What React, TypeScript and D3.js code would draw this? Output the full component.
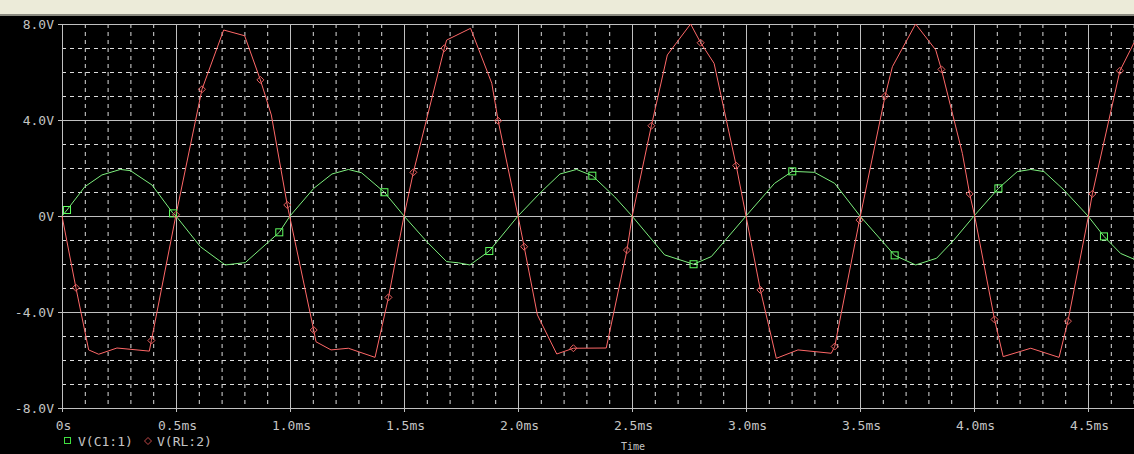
import React, { useEffect, useRef } from 'react';
import * as d3 from 'd3';

// V(C1:1) — time in ms, value in volts
const greenTime = [0, 0.022, 0.1, 0.175, 0.256, 0.3, 0.395, 0.487, 0.5, 0.607, 0.716, 0.804, 0.953, 1.0, 1.104, 1.184, 1.256, 1.314, 1.414, 1.5, 1.6, 1.687, 1.738, 1.789, 1.874, 2.0, 2.096, 2.184, 2.257, 2.326, 2.424, 2.5, 2.643, 2.77, 2.848, 3.0, 3.125, 3.203, 3.3, 3.389, 3.5, 3.652, 3.744, 3.836, 3.912, 4.0, 4.107, 4.19, 4.249, 4.307, 4.395, 4.5, 4.57, 4.643, 4.702];
const greenVolt = [0, 0.25, 1.22, 1.71, 1.94, 1.89, 1.29, 0.11, 0, -1.28, -2.04, -1.94, -0.68, 0, 1.15, 1.75, 1.94, 1.8, 0.99, 0, -1.07, -1.9, -1.95, -2.04, -1.46, 0, 0.95, 1.75, 1.94, 1.68, 0.8, 0, -1.62, -2.01, -1.69, 0, 1.36, 1.86, 1.82, 1.36, 0, -1.64, -2.04, -1.76, -1.0, 0, 1.15, 1.85, 1.94, 1.85, 1.08, 0, -0.85, -1.56, -1.8];
const greenMarkTime = [0.022, 0.487, 0.953, 1.414, 1.874, 2.326, 2.77, 3.203, 3.652, 4.107, 4.57];
const greenMarkVolt = [0.25, 0.11, -0.68, 0.99, -1.46, 1.68, -2.01, 1.86, -1.64, 1.15, -0.85];

// V(RL:2)
const redTime = [0, 0.061, 0.117, 0.161, 0.241, 0.383, 0.392, 0.5, 0.614, 0.709, 0.801, 0.87, 0.918, 0.988, 1.104, 1.114, 1.18, 1.256, 1.373, 1.432, 1.5, 1.541, 1.677, 1.687, 1.792, 1.885, 1.913, 2.0, 2.027, 2.085, 2.17, 2.243, 2.387, 2.478, 2.501, 2.585, 2.655, 2.757, 2.801, 2.86, 2.957, 3.0, 3.063, 3.133, 3.228, 3.374, 3.389, 3.498, 3.61, 3.642, 3.744, 3.832, 3.857, 3.949, 3.981, 4.003, 4.09, 4.128, 4.249, 4.373, 4.412, 4.502, 4.519, 4.64, 4.702];
const redVolt = [0, -2.99, -5.58, -5.76, -5.5, -5.63, -5.19, 0.05, 5.28, 7.75, 7.51, 5.67, 4.21, 0.46, -4.75, -5.24, -5.58, -5.51, -5.89, -3.39, 0, 1.82, 6.99, 7.33, 7.82, 5.53, 3.97, 0, -1.28, -4.12, -5.75, -5.51, -5.5, -1.42, 0, 3.76, 6.71, 8.0, 7.22, 6.36, 2.1, 0, -3.08, -5.93, -5.58, -5.72, -5.44, -0.17, 5.0, 6.22, 8.0, 6.92, 6.11, 2.61, 0.92, 0, -4.31, -5.86, -5.51, -5.89, -4.38, 0, 0.92, 6.05, 7.22];
const redMarkTime = [0.061, 0.392, 0.5, 0.614, 0.87, 0.988, 1.104, 1.432, 1.541, 1.677, 1.913, 2.027, 2.243, 2.478, 2.585, 2.801, 2.957, 3.063, 3.389, 3.498, 3.61, 3.857, 3.981, 4.09, 4.412, 4.519, 4.64];
const redMarkVolt = [-2.99, -5.19, 0.05, 5.28, 5.67, 0.46, -4.75, -3.39, 1.82, 6.99, 3.97, -1.28, -5.51, -1.42, 3.76, 7.22, 2.1, -3.08, -5.44, -0.17, 5.0, 6.11, 0.92, -4.31, -4.38, 0.92, 6.05];

const xTickLabels = ['0s', '0.5ms', '1.0ms', '1.5ms', '2.0ms', '2.5ms', '3.0ms', '3.5ms', '4.0ms', '4.5ms'];
const yTickValues = [8, 4, 0, -4, -8];
const yTickLabels = ['8.0V', '4.0V', '0V', '-4.0V', '-8.0V'];

const W = 1134;
const H = 454;
const FONT = '"DejaVu Sans Mono", monospace';
const TEXT = '#c4c4c4';
const GREEN = '#7ef07e';
const RED = '#ff6868';

const App: React.FC = () => {
  const svgRef = useRef<SVGSVGElement>(null);

  useEffect(() => {
    if (!svgRef.current) return;
    const svg = d3.select(svgRef.current);
    svg.selectAll('*').remove();

    const left = 62, top = 24, bottom = 408;
    const x = d3.scaleLinear().domain([0, 5]).range([left, left + 5 * 228]);
    const y = d3.scaleLinear().domain([-8, 8]).range([bottom, top]);

    svg.append('rect').attr('width', W).attr('height', H).attr('fill', '#000');
    // window strip on top
    svg.append('rect').attr('width', W).attr('height', 15).attr('fill', '#ecebd9');
    svg.append('rect').attr('y', 14).attr('width', W).attr('height', 2).attr('fill', '#8a8a80');

    const g = svg.append('g');

    // minor grid
    d3.range(1, 50).filter(i => i % 5 !== 0).forEach(i => {
      g.append('line')
        .attr('x1', x(i / 10) + 0.5).attr('x2', x(i / 10) + 0.5)
        .attr('y1', top).attr('y2', bottom)
        .attr('stroke', '#dcdcdc').attr('stroke-dasharray', '4,4');
    });
    d3.range(-7, 8).filter(v => v % 4 !== 0).forEach(v => {
      g.append('line')
        .attr('x1', left).attr('x2', W)
        .attr('y1', y(v) + 0.5).attr('y2', y(v) + 0.5)
        .attr('stroke', '#dcdcdc').attr('stroke-dasharray', '4,4');
    });

    // major grid + ticks
    xTickLabels.forEach((lbl, i) => {
      const px = Math.round(x(i * 0.5)) + 0.5;
      g.append('line').attr('x1', px).attr('x2', px).attr('y1', top).attr('y2', bottom + 4)
        .attr('stroke', '#c0c0c0');
      g.append('text').attr('x', px + 1).attr('y', 430).attr('text-anchor', 'middle')
        .attr('font-family', FONT).attr('font-size', 13).attr('fill', TEXT).text(lbl);
    });
    yTickValues.forEach((v, i) => {
      const py = Math.round(y(v)) + 0.5;
      g.append('line').attr('x1', left - 4).attr('x2', W).attr('y1', py).attr('y2', py)
        .attr('stroke', '#c0c0c0');
      g.append('text').attr('x', 54).attr('y', py + 4.5).attr('text-anchor', 'end')
        .attr('font-family', FONT).attr('font-size', 13).attr('fill', TEXT).text(yTickLabels[i]);
    });

    const line = d3.line<[number, number]>().x(d => x(d[0])).y(d => y(d[1]));

    const greenPts = greenTime.map((t, i) => [t, greenVolt[i]] as [number, number]);
    const redPts = redTime.map((t, i) => [t, redVolt[i]] as [number, number]);

    g.append('path').attr('d', line(greenPts)).attr('fill', 'none')
      .attr('stroke', GREEN).attr('stroke-width', 1);
    g.append('path').attr('d', line(redPts)).attr('fill', 'none')
      .attr('stroke', RED).attr('stroke-width', 1);

    // markers
    greenMarkTime.forEach((t, i) => {
      g.append('rect')
        .attr('x', x(t) - 3.5).attr('y', y(greenMarkVolt[i]) - 3.5)
        .attr('width', 7).attr('height', 7)
        .attr('fill', 'none').attr('stroke', '#60ff60').attr('stroke-width', 1);
    });
    const diamond = (cx: number, cy: number) =>
      `M${cx},${cy - 3.5}L${cx + 3.5},${cy}L${cx},${cy + 3.5}L${cx - 3.5},${cy}Z`;
    redMarkTime.forEach((t, i) => {
      g.append('path').attr('d', diamond(x(t), y(redMarkVolt[i])))
        .attr('fill', 'none').attr('stroke', '#e86060').attr('stroke-width', 1);
    });

    // legend
    g.append('rect').attr('x', 64.5).attr('y', 437.5).attr('width', 6).attr('height', 6)
      .attr('fill', 'none').attr('stroke', '#40e040');
    g.append('text').attr('x', 78).attr('y', 446).attr('font-family', FONT).attr('font-size', 13)
      .attr('fill', TEXT).text('V(C1:1)');
    g.append('path').attr('d', diamond(148, 441)).attr('fill', 'none').attr('stroke', '#c04848');
    g.append('text').attr('x', 157).attr('y', 446).attr('font-family', FONT).attr('font-size', 13)
      .attr('fill', TEXT).text('V(RL:2)');

    g.append('text').attr('x', 633).attr('y', 450).attr('text-anchor', 'middle')
      .attr('font-family', FONT).attr('font-size', 10).attr('fill', TEXT).text('Time');
  }, []);

  return (
    <div style={{ position: 'fixed', left: 0, top: 0, width: W, height: H, overflow: 'hidden', background: '#000' }}>
      <svg ref={svgRef} width={W} height={H} style={{ display: 'block' }} />
    </div>
  );
};

export default App;
